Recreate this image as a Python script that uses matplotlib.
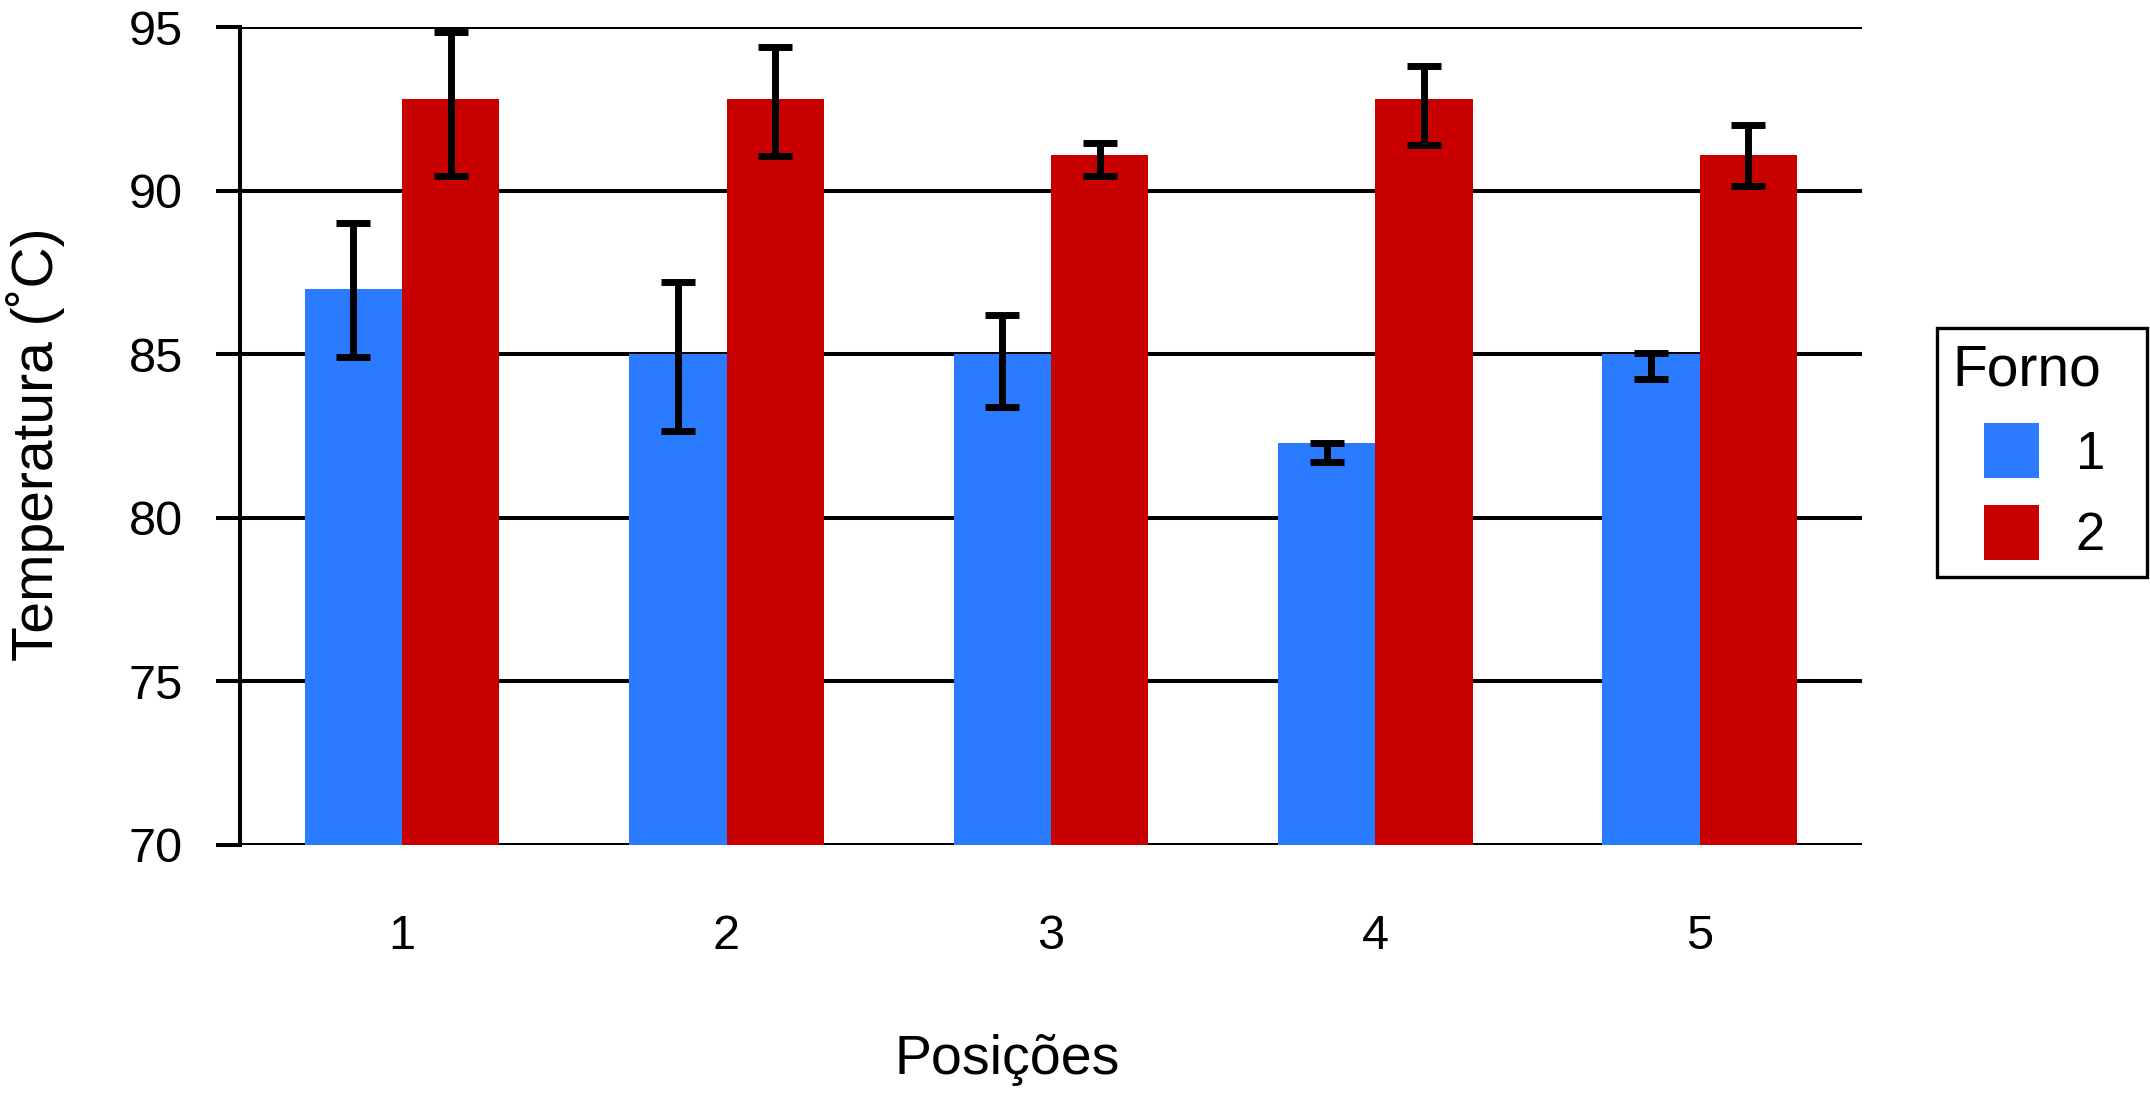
import matplotlib
matplotlib.use("Agg")
import matplotlib.pyplot as plt
from matplotlib.patches import Rectangle
from matplotlib.legend_handler import HandlerPatch
import numpy as np

plt.rcParams['font.family'] = ['Liberation Sans', 'DejaVu Sans']

posicoes = ["1", "2", "3", "4", "5"]
forno1 = [87.0, 85.0, 85.0, 82.3, 85.0]
forno2 = [92.8, 92.8, 91.1, 92.8, 91.1]
# error bar ends (upper / lower)
forno1_hi = [89.0, 87.2, 86.2, 82.3, 85.05]
forno1_lo = [84.9, 82.65, 83.4, 81.7, 84.25]
forno2_hi = [94.85, 94.4, 91.45, 93.8, 92.0]
forno2_lo = [90.45, 91.05, 90.45, 91.4, 90.15]

azul = "#2A7BFF"
vermelho = "#C80000"

x = np.arange(1, len(posicoes) + 1)
w = 0.3
f1 = np.array(forno1)
f2 = np.array(forno2)
err1 = [f1 - np.array(forno1_lo), np.array(forno1_hi) - f1]
err2 = [f2 - np.array(forno2_lo), np.array(forno2_hi) - f2]

fig = plt.figure(figsize=(21.5, 11.08), dpi=100)
ax = fig.add_axes([0.1116, 0.2374, 0.866 - 0.1116, 0.9756 - 0.2374])

b1 = ax.bar(x - w / 2, f1, w, color=azul, zorder=2)
b2 = ax.bar(x + w / 2, f2, w, color=vermelho, zorder=2)
ax.errorbar(x - w / 2, f1, yerr=err1, fmt="none", ecolor="black",
            elinewidth=5, capsize=12.5, capthick=5, zorder=3)
ax.errorbar(x + w / 2, f2, yerr=err2, fmt="none", ecolor="black",
            elinewidth=5, capsize=12.5, capthick=5, zorder=3)

ax.set_xlim(0.5, 5.5)
ax.set_ylim(70, 95)
ax.set_yticks(np.arange(70, 96, 5))
ax.set_xticks(x)
ax.set_xticklabels(posicoes)
ax.yaxis.grid(True, color="black", linewidth=2.9)
ax.set_axisbelow(True)

for s in ["top", "right", "bottom"]:
    ax.spines[s].set_visible(False)
ax.spines["left"].set_linewidth(2.9)
ax.tick_params(axis="y", direction="out", length=17, width=2.9, pad=24, labelsize=35)
ax.tick_params(axis="x", length=0, pad=50, labelsize=35)

ax.set_ylabel("Temperatura (˚C)", fontsize=41)
ax.yaxis.set_label_coords(-0.126, 0.49)
ax.yaxis.label.set_va("center")
ax.set_xlabel("Posições", fontsize=40)
ax.xaxis.set_label_coords(0.473, -0.263)
ax.xaxis.label.set_va("center")


def square(legend, orig_handle, xdescent, ydescent, width, height, fontsize):
    size = 55 * 72 / 100.0
    return Rectangle((-xdescent + width - size, -ydescent + (height - size) / 2), size, size)


leg = ax.legend([b1.patches[0], b2.patches[0]], ["1", "2"], title="Forno", loc="upper left",
                bbox_to_anchor=(1937 / 2150, 0, 210 / 2150, 1 - 328 / 1108),
                bbox_transform=fig.transFigure, mode="expand", borderaxespad=0,
                fontsize=38, title_fontsize=41,
                handlelength=1.63, handleheight=1.1, handletextpad=0.7, labelspacing=0.52,
                alignment="left", fancybox=False, edgecolor="black", framealpha=1,
                borderpad=0.3,
                handler_map={Rectangle: HandlerPatch(patch_func=square)})
leg.get_frame().set_linewidth(2.4)

fig.savefig("out.png", dpi=100)
